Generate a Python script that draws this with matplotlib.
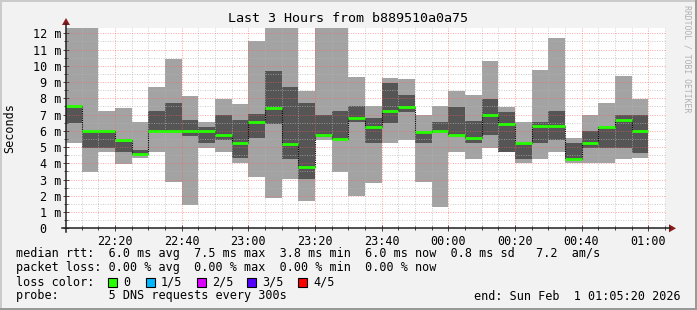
import numpy as np
import matplotlib
matplotlib.use('Agg')
import matplotlib.pyplot as plt
from matplotlib.lines import Line2D
from matplotlib.patches import Polygon, Rectangle

plt.rcParams['font.family'] = ['DejaVu Sans Mono']

# 5 minute steps, minutes after 22:00 where each step starts
starts = [5 + 5 * i for i in range(35)]
# smoke: outer (light) and inner (dark) band, median rtt in ms
light_lo = [5.27, 3.48, 4.71, 3.97, 4.30, 4.71, 2.86, 1.43, 4.96, 4.71, 3.99, 3.17,
            1.84, 3.01, 1.70, 5.43, 3.48, 2.00, 2.80, 5.28, 5.43, 2.86, 1.33, 4.71,
            4.26, 4.96, 4.71, 4.00, 4.26, 4.71, 3.99, 3.99, 3.99, 4.26, 4.34]
light_hi = [12.6, 12.6, 7.21, 7.42, 6.56, 8.69, 10.45, 8.14, 6.52, 7.95, 7.64, 11.52,
            12.6, 12.6, 8.44, 12.6, 12.6, 9.33, 7.52, 9.26, 9.18, 6.97, 7.52, 8.44,
            8.20, 10.31, 7.48, 6.56, 9.74, 11.73, 5.53, 6.97, 7.71, 9.39, 7.95]
dark_lo = [6.50, 4.96, 4.96, 4.71, 4.57, 5.98, 5.98, 5.70, 5.28, 5.43, 4.30, 5.53,
           6.39, 4.24, 3.01, 5.63, 5.43, 6.56, 5.28, 6.50, 7.17, 5.28, 5.94, 5.74,
           5.28, 5.74, 4.71, 4.24, 5.28, 5.43, 4.26, 4.96, 4.96, 4.96, 4.65]
dark_hi = [7.38, 5.92, 5.92, 5.33, 4.81, 7.21, 7.71, 6.66, 6.25, 6.97, 6.66, 7.01,
           9.67, 8.69, 7.71, 6.97, 7.21, 7.52, 6.76, 8.96, 8.20, 5.94, 6.56, 7.48,
           6.60, 7.95, 7.17, 5.27, 6.56, 7.21, 5.28, 5.98, 6.25, 6.97, 6.97]
median = [7.50, 6.00, 6.00, 5.43, 4.55, 6.00, 6.00, 6.00, 6.00, 5.74, 5.28, 6.52,
          7.42, 5.22, 3.75, 5.74, 5.50, 6.76, 6.25, 7.21, 7.46, 5.94, 6.00, 5.74,
          5.57, 6.97, 6.43, 5.27, 6.29, 6.29, 4.26, 5.28, 6.25, 6.66, 6.00]

tick_pos = [20, 40, 60, 80, 100, 120, 140, 160, 180]
tick_lab = ['22:20', '22:40', '23:00', '23:20', '23:40', '00:00', '00:20', '00:40', '01:00']
y_ticks = list(range(13))
y_labs = ['0  '] + ['%d m' % v for v in range(1, 13)]

loss_names = ['0', '1/5', '2/5', '3/5', '4/5']
loss_cols = ['#26ff00', '#00b8ff', '#dd00ff', '#5500ff', '#ff0000']

W, H = 697, 310


def fp(x, y):
    # pixel -> figure fraction
    return x / W, 1 - y / H


fig = plt.figure(figsize=(W / 100, H / 100), dpi=100, facecolor='#f2f2f2')
ax = fig.add_axes([66 / W, (H - 228.3) / H, 600 / W, (228.3 - 28) / H])
ax.set_facecolor('white')
ax.set_xlim(5 + 1 / 3, 185 + 1 / 3)
ax.set_ylim(0, 12.33)

lo = np.array(light_lo)
dlo = np.array(dark_lo)
ax.bar(starts, np.array(light_hi) - lo, bottom=lo, width=5, align='edge',
       color='#a3a3a3', linewidth=0, zorder=1)
ax.bar(starts, np.array(dark_hi) - dlo, bottom=dlo, width=5, align='edge',
       color='#555555', linewidth=0, zorder=2)

# grid on top of the smoke
dots = (0, (1, 1.5))
for m in np.arange(5, 186, 5):
    if m % 20 == 0:
        ax.axvline(m, color='#ff5b5b', alpha=0.6, lw=0.7, ls=dots, zorder=3)
    else:
        ax.axvline(m, color='#b4b4b4', alpha=0.7, lw=0.7, ls=dots, zorder=3)
for v in np.arange(0.5, 12.4, 0.5):
    if v % 1 == 0:
        ax.axhline(v, color='#ff5b5b', alpha=0.55, lw=0.7, ls=dots, zorder=3)
    else:
        ax.axhline(v, color='#b4b4b4', alpha=0.7, lw=0.7, ls=dots, zorder=3)

# median: dotted joins + green steps
ends = [s + 5 for s in starts]
ax.vlines(ends[:-1], median[:-1], median[1:], color='black', lw=0.8,
          ls=(0, (1, 1)), zorder=4)
ax.hlines(median, starts, ends, color=loss_cols[0], lw=2.0, zorder=5)

for s in ax.spines.values():
    s.set_visible(False)
ax.set_xticks(tick_pos)
ax.set_xticklabels(tick_lab, fontsize=8.5)
ax.set_xticks(np.arange(10, 186, 5), minor=True)
ax.set_yticks(y_ticks)
ax.set_yticklabels(y_labs, fontsize=8.5)
ax.set_yticks(np.arange(0.5, 12.4, 1), minor=True)
ax.tick_params(axis='both', which='major', direction='inout', length=4,
               width=0.7, color='#404040')
ax.tick_params(axis='both', which='minor', direction='inout', length=2.5,
               width=0.7, color='#404040')
ax.tick_params(axis='y', which='major', pad=1.5)
ax.tick_params(axis='x', which='major', pad=2.5)

# axis lines and arrows
fig.add_artist(Line2D(*zip(fp(66, 232), fp(66, 24)), color='#202020', lw=1.1))
fig.add_artist(Line2D(*zip(fp(62, 228.3), fp(670, 228.3)), color='#202020', lw=1.1))
fig.add_artist(Polygon([fp(62, 25), fp(70, 25), fp(66, 18)], closed=True,
                       color='#8b1a1a', lw=0))
fig.add_artist(Polygon([fp(669, 224.3), fp(669, 232.3), fp(676, 228.3)], closed=True,
                       color='#8b1a1a', lw=0))

# frame
fig.add_artist(Rectangle(fp(0, 310), 2 / W, 1, transform=fig.transFigure,
                         color='#cbcbcb', lw=0))
fig.add_artist(Rectangle(fp(0, 2), 1, 2 / H, transform=fig.transFigure,
                         color='#cbcbcb', lw=0))
fig.add_artist(Rectangle(fp(695, 310), 2 / W, 1, transform=fig.transFigure,
                         color='#999999', lw=0))
fig.add_artist(Rectangle(fp(0, 310), 1, 2 / H, transform=fig.transFigure,
                         color='#999999', lw=0))

fig.text(*fp(348, 19), 'Last 3 Hours from b889510a0a75', fontsize=9.6,
         ha='center', va='center')
fig.text(*fp(10, 128), 'Seconds', fontsize=8.5, rotation=90, ha='center', va='center')
fig.text(*fp(687, 5), 'RRDTOOL / TOBI OETIKER', fontsize=5.9, rotation=270,
         ha='center', va='top', color='#b0b0b0')

fs = 8.5
fig.text(*fp(16, 254), 'median rtt:  6.0 ms avg  7.5 ms max  3.8 ms min  '
         '6.0 ms now  0.8 ms sd   7.2  am/s', fontsize=fs, va='center')
fig.text(*fp(16, 268), 'packet loss: 0.00 % avg  0.00 % max  0.00 % min  0.00 % now',
         fontsize=fs, va='center')
fig.text(*fp(16, 282), 'loss color:', fontsize=fs, va='center')
sq_x = [108, 146, 197, 247, 298]
for x, name, col in zip(sq_x, loss_names, loss_cols):
    fig.add_artist(Rectangle(fp(x, 286.5), 8.5 / W, 9 / H, transform=fig.transFigure,
                             facecolor=col, edgecolor='black', lw=0.8))
    fig.text(*fp(x + 15, 282), name, fontsize=fs, va='center')
fig.text(*fp(16, 296), 'probe:       5 DNS requests every 300s', fontsize=fs, va='center')
fig.text(*fp(681, 296), 'end: Sun Feb  1 01:05:20 2026', fontsize=fs, va='center', ha='right')

fig.savefig('out.png', dpi=100, facecolor=fig.get_facecolor())
